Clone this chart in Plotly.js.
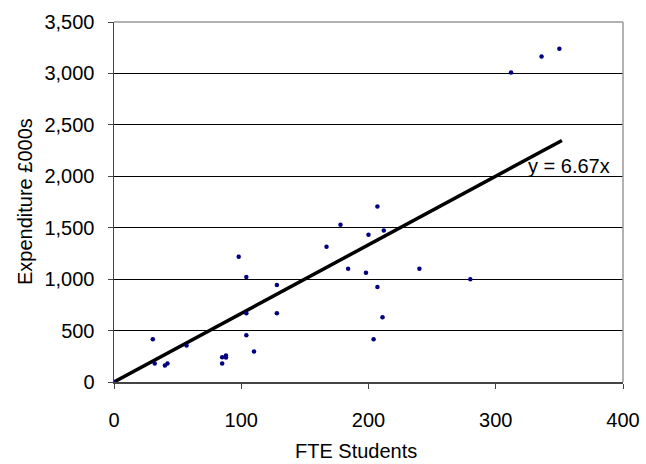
<!DOCTYPE html>
<html>
<head>
<meta charset="utf-8">
<script src="https://cdn.plot.ly/plotly-3.0.1.min.js"></script>
<style>html,body{margin:0;padding:0;background:#fff;}#chart{width:646px;height:464px;}</style>
</head>
<body>
<div id="chart"></div>
<script>
// FTE students (x) and expenditure £000s (y)
const fteStudents = [0, 30.5, 32, 40, 42, 57, 85, 85, 88, 88, 98, 104, 104, 104, 110, 128, 128, 167, 178, 184, 198, 200, 204, 207, 207, 212, 211, 240, 280, 312, 336, 350];
const expenditure = [0, 415, 180, 160, 180, 356, 240, 180, 258, 239, 1217, 1021, 669, 454, 297, 943, 669, 1315, 1530, 1100, 1061, 1432, 415, 1706, 924, 1472, 630, 1100, 1000, 3010, 3165, 3240];
const trendSlope = 6.67;
const trendX = [0, 352];
const trendY = trendX.map(x => x * trendSlope);
const trendLabel = "y = 6.67x";
const xTicks = [0, 100, 200, 300, 400];
const yTicks = [0, 500, 1000, 1500, 2000, 2500, 3000, 3500];
const xTitle = "FTE Students";
const yTitle = "Expenditure £000s";

const font = {family: "Liberation Sans, Arial, sans-serif", size: 20, color: "#000"};

const data = [
  {x: trendX, y: trendY, type: "scatter", mode: "lines",
   line: {color: "#000", width: 3.5}, hoverinfo: "skip"},
  {x: fteStudents, y: expenditure, type: "scatter", mode: "markers",
   marker: {color: "#000080", size: 4.5, symbol: "circle"}, hoverinfo: "x+y"}
];

const layout = {
  width: 646, height: 464,
  margin: {l: 114, r: 23, t: 22, b: 82},
  paper_bgcolor: "#fff", plot_bgcolor: "#fff",
  showlegend: false,
  font: font,
  xaxis: {
    range: [0, 400], tickvals: xTicks, ticktext: xTicks.map(String),
    showgrid: false, zeroline: false,
    showline: true, linecolor: "#444", linewidth: 1.5,
    ticks: "outside", ticklen: 5, tickcolor: "#444", tickwidth: 1,
    ticklabelstandoff: 14,
    tickfont: font
  },
  yaxis: {
    range: [0, 3500], tickvals: yTicks, ticktext: yTicks.map(v => v.toLocaleString("en-US")),
    showgrid: true, gridcolor: "#000", gridwidth: 1,
    zeroline: false,
    showline: true, linecolor: "#444", linewidth: 1.5,
    ticks: "outside", ticklen: 5, tickcolor: "#444", tickwidth: 1,
    ticklabelstandoff: 9,
    tickfont: font
  },
  shapes: [
    {type: "line", xref: "paper", yref: "paper", x0: 0, x1: 1, y0: 1, y1: 1,
     line: {color: "#999", width: 1.5}, layer: "above"},
    {type: "line", xref: "paper", yref: "paper", x0: 1, x1: 1, y0: 0, y1: 1,
     line: {color: "#999", width: 1.5}, layer: "above"}
  ],
  annotations: [
    {x: 324, y: 2102, xref: "x", yref: "y", text: trendLabel, showarrow: false,
     xanchor: "left", yanchor: "middle", font: font},
    {x: 0.476, y: 0, xref: "paper", yref: "paper", text: xTitle, showarrow: false,
     xanchor: "center", yanchor: "middle", yshift: -69, font: font},
    {x: 0, y: 0.5, xref: "paper", yref: "paper", text: yTitle, showarrow: false,
     textangle: -90, xanchor: "center", yanchor: "middle", xshift: -89, font: font}
  ]
};

Plotly.newPlot("chart", data, layout, {displayModeBar: false, staticPlot: true});
</script>
</body>
</html>
